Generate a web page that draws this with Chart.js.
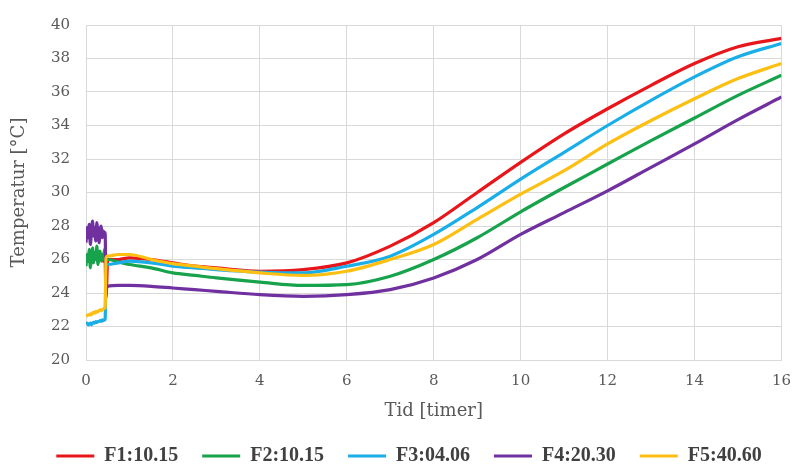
<!DOCTYPE html>
<html>
<head>
<meta charset="utf-8">
<script src="https://cdn.jsdelivr.net/npm/chart.js@4.4.0/dist/chart.umd.min.js"></script>
<style>
    body { margin: 0; background: #ffffff; }
    #wrap { width: 803px; height: 476px; }
</style>
</head>
<body>
<div id="wrap"><canvas id="grafTemp" width="803" height="476"></canvas></div>
<script>
// måletidspunkter (timer) - tett i starten der følerne står ute
const tid = [0, 0.025, 0.05, 0.075, 0.1, 0.125, 0.15, 0.175, 0.2, 0.225, 0.25, 0.275, 0.3, 0.325, 0.35, 0.375, 0.4, 0.425,
    0.44, 0.46, 0.5, 0.75, 1, 1.5, 2, 2.5, 3,
    4, 5, 6, 7, 8, 9, 10, 11, 12, 13, 14, 15, 16];

// temperaturer per føler [°C]
const f1 = [26.0, 26.1, 25.9, 26.0, 26.1, 26.0, 25.9, 26.1, 26.0, 26.0, 26.1, 25.9, 26.0, 26.1, 26.0, 26.0, 25.9, 26.0,
    26.0, 23.7, 26.0, 26.0, 26.1, 26.0, 25.8, 25.6, 25.5,
    25.3, 25.4, 25.8, 26.8, 28.2, 30.0, 31.8, 33.5, 35.0, 36.4, 37.7, 38.7, 39.2];
const f2 = [25.6, 26.3, 25.9, 26.6, 25.5, 26.1, 26.7, 25.8, 26.4, 26.0, 26.8, 25.7, 26.2, 26.5, 25.9, 26.3, 26.0, 26.6,
    26.2, 26.0, 26.0, 25.85, 25.7, 25.5, 25.2, 25.05, 24.9,
    24.65, 24.45, 24.5, 25.0, 26.0, 27.3, 28.85, 30.3, 31.7, 33.1, 34.45, 35.8, 37.0];
const f3 = [22.1, 22.2, 22.1, 22.15, 22.2, 22.1, 22.2, 22.25, 22.2, 22.3, 22.25, 22.3, 22.3, 22.35, 22.3, 22.4, 22.35, 22.4,
    22.4, 25.6, 25.7, 25.8, 25.9, 25.8, 25.6, 25.5, 25.4,
    25.25, 25.2, 25.6, 26.2, 27.5, 29.1, 30.8, 32.4, 34.0, 35.5, 36.9, 38.1, 38.9];
const f4 = [27.0, 27.9, 27.3, 28.1, 26.9, 27.6, 28.3, 27.4, 27.9, 27.1, 28.2, 27.6, 27.0, 27.8, 28.0, 27.3, 27.7, 27.5,
    27.6, 24.3, 24.4, 24.45, 24.45, 24.4, 24.3, 24.2, 24.1,
    23.9, 23.8, 23.9, 24.2, 24.9, 26.0, 27.5, 28.8, 30.1, 31.5, 32.9, 34.35, 35.7];
const f5 = [22.6, 22.65, 22.7, 22.7, 22.75, 22.7, 22.8, 22.85, 22.8, 22.9, 22.85, 22.9, 22.95, 23.0, 22.95, 23.0, 23.05, 23.1,
    23.1, 26.1, 26.2, 26.3, 26.3, 26.0, 25.75, 25.6, 25.45,
    25.2, 25.05, 25.3, 26.0, 26.9, 28.4, 29.9, 31.3, 32.9, 34.3, 35.6, 36.8, 37.7];

const navn = ['F1:10.15', 'F2:10.15', 'F3:04.06', 'F4:20.30', 'F5:40.60'];
const farger = ['#e8161b', '#17a24c', '#1aaee8', '#7030a0', '#fcbf12'];

const serie = [f1, f2, f3, f4, f5];
const tekstFont = 'DejaVu Serif';

const datasets = serie.map(function (verdier, i) {
    return {
        label: navn[i],
        data: tid.map((t, j) => ({ x: t, y: verdier[j] })),
        borderColor: farger[i],
        backgroundColor: farger[i],
        borderWidth: 3.2,
        pointRadius: 0,
        cubicInterpolationMode: 'monotone',
        order: serie.length - i  // F5 tegnes øverst
    };
});

// skyver forklaringen litt mot høyre
const flyttLegende = {
    id: 'flyttLegende',
    afterLayout(chart) {
        chart.legend.left += 14;
        chart.legend.right += 14;
    }
};

new Chart(document.getElementById('grafTemp').getContext('2d'), {
    type: 'line',
    data: { datasets: datasets },
    plugins: [flyttLegende],
    options: {
        responsive: false,
        animation: false,
        layout: { padding: { top: 21, right: 13, bottom: 0, left: 0 } },
        plugins: {
            tooltip: { enabled: false },
            legend: {
                position: 'bottom',
                labels: {
                    usePointStyle: true,
                    pointStyle: 'line',
                    pointStyleWidth: 38,
                    padding: 24,
                    color: '#404040',
                    font: { family: 'Liberation Serif', size: 20, weight: 'bold' },
                    sort: (a, b) => a.datasetIndex - b.datasetIndex
                }
            }
        },
        scales: {
            x: {
                type: 'linear',
                min: 0,
                max: 16,
                ticks: {
                    stepSize: 2,
                    padding: 12,
                    color: '#595959',
                    font: { family: tekstFont, size: 15 }
                },
                grid: { color: '#d9d9d9', drawTicks: false },
                border: { color: '#d9d9d9' },
                title: {
                    display: true,
                    text: 'Tid [timer]',
                    color: '#595959',
                    padding: { top: 4, bottom: 0 },
                    font: { family: tekstFont, size: 18 }
                },
                afterFit: function (scale) { scale.height = 62; }
            },
            y: {
                min: 20,
                max: 40,
                ticks: {
                    stepSize: 2,
                    padding: 16,
                    color: '#595959',
                    font: { family: tekstFont, size: 15 }
                },
                grid: { color: '#d9d9d9', drawTicks: false },
                border: { color: '#d9d9d9' },
                title: {
                    display: true,
                    text: 'Temperatur [°C]',
                    color: '#595959',
                    padding: { top: 9, bottom: 0 },
                    font: { family: tekstFont, size: 18 }
                },
                afterFit: function (scale) { scale.width = 86; }
            }
        }
    }
});
</script>
</body>
</html>
